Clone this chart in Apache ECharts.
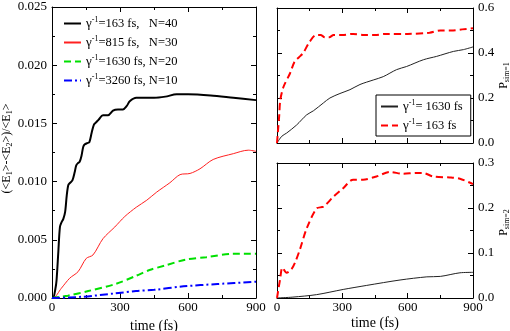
<!DOCTYPE html>
<html>
<head>
<meta charset="utf-8">
<script src="https://cdn.jsdelivr.net/npm/echarts@6/dist/echarts.min.js"></script>
<style>
  html, body { margin: 0; padding: 0; background: #fff; }
  #main { width: 510px; height: 331px; }
</style>
</head>
<body>
<div id="main"></div>
<script>
// left panel: relative energy difference
var tBlack = [0, 5, 15, 20, 28, 35, 42, 50, 58, 65, 72, 80, 90, 100, 107, 115, 122, 130, 138, 145, 155, 165, 175, 185, 195, 205, 225, 247, 269, 291, 313, 330, 343, 372, 400, 450, 500, 550, 600, 700, 800, 900];
var vBlack = [0, 0, 0.0008, 0.0015, 0.004, 0.0061, 0.0065, 0.0068, 0.0074, 0.0088, 0.0097, 0.0099, 0.0101, 0.0108, 0.0114, 0.0116, 0.0117, 0.0122, 0.013, 0.0132, 0.0133, 0.0134, 0.0142, 0.0149, 0.0151, 0.0153, 0.0157, 0.0157, 0.0161, 0.0162, 0.0162, 0.0165, 0.0169, 0.0172, 0.0172, 0.0172, 0.0173, 0.0175, 0.0175, 0.0174, 0.0172, 0.0170];
var tRed = [0, 5, 41, 78, 115, 151, 181, 225, 277, 321, 372, 418, 462, 520, 565, 609, 653, 711, 800, 866, 900];
var vRed = [0, 0, 0.00083, 0.0017, 0.00226, 0.0034, 0.0037, 0.0051, 0.0061, 0.007, 0.0078, 0.0084, 0.0091, 0.0099, 0.0106, 0.0107, 0.0111, 0.0119, 0.0124, 0.0127, 0.0126];
var tGreen = [0, 70, 160, 280, 370, 430, 500, 590, 680, 800, 850, 900];
var vGreen = [0, 0.0002, 0.0006, 0.0012, 0.0019, 0.0024, 0.0028, 0.0033, 0.0035, 0.0038, 0.0038, 0.0038];
var tBlue = [0, 130, 280, 370, 450, 580, 730, 900];
var vBlue = [0, 0.0001, 0.0004, 0.0006, 0.0007, 0.001, 0.0012, 0.0014];

// top right: P sim=1
var tP1Slow = [0, 22, 44, 90, 136, 167, 213, 243, 289, 335, 381, 442, 488, 549, 595, 672, 733, 810, 856, 900];
var vP1Slow = [0, 0.03, 0.044, 0.08, 0.125, 0.143, 0.178, 0.2, 0.22, 0.237, 0.26, 0.28, 0.295, 0.326, 0.34, 0.37, 0.385, 0.407, 0.415, 0.427];
var tP1Fast = [0, 10, 15, 30, 60, 80, 100, 120, 150, 180, 200, 220, 240, 260, 300, 350, 400, 450, 500, 600, 700, 750, 800, 850, 900];
var vP1Fast = [0, 0.12, 0.19, 0.25, 0.31, 0.36, 0.38, 0.40, 0.45, 0.48, 0.48, 0.47, 0.47, 0.48, 0.48, 0.485, 0.48, 0.48, 0.485, 0.485, 0.49, 0.50, 0.50, 0.505, 0.51];

// bottom right: P sim=2
var tP2Slow = [0, 73, 182, 304, 412, 565, 688, 750, 840, 900];
var vP2Slow = [0, 0.002, 0.0075, 0.019, 0.028, 0.04, 0.047, 0.048, 0.056, 0.057];
var tP2Fast = [0, 14, 25, 44, 66, 83, 106, 136, 182, 213, 259, 304, 350, 395, 457, 518, 579, 640, 670, 717, 794, 840, 900];
var vP2Fast = [0, 0.041, 0.0675, 0.056, 0.064, 0.079, 0.109, 0.154, 0.199, 0.203, 0.225, 0.244, 0.263, 0.263, 0.27, 0.28, 0.276, 0.278, 0.278, 0.27, 0.268, 0.265, 0.253];

var legendLeft = {
  L163: '{g|γ}{s|-1}{t|=163 fs,   N=40}',
  L815: '{g|γ}{s|-1}{t|=815 fs,   N=30}',
  L1630: '{g|γ}{s|-1}{t|=1630 fs, N=20}',
  L3260: '{g|γ}{s|-1}{t|=3260 fs, N=10}'
};
var legendRight = {
  R1630: '{g|γ}{s|-1}{t|= 1630 fs}',
  R163: '{g|γ}{s|-1}{t|= 163 fs}'
};

function zip(t, v) {
  return t.map(function (x, i) { return [x, v[i]]; });
}

var font = 'Liberation Serif';
var richLegend = {
  g: { fontFamily: font, fontSize: 13, lineHeight: 15, color: '#000' },
  s: { fontFamily: font, fontSize: 8, lineHeight: 9, verticalAlign: 'top', color: '#000' },
  t: { fontFamily: font, fontSize: 12.5, lineHeight: 15, color: '#000' }
};
var richName = {
  t: { fontFamily: font, fontSize: 12, lineHeight: 14, color: '#000' },
  b: { fontFamily: font, fontSize: 8, lineHeight: 9, verticalAlign: 'bottom', color: '#000' }
};

function xAx(grid, pos, labels) {
  var a = {
    type: 'value', gridIndex: grid, position: pos, min: 0, max: 900, interval: 300,
    axisLine: { show: true, onZero: false, lineStyle: { color: '#000', width: 1 } },
    axisTick: { show: true, inside: true, length: 5, lineStyle: { color: '#000' } },
    minorTick: { show: true, splitNumber: 2, length: 3, lineStyle: { color: '#000' } },
    splitLine: { show: false },
    axisLabel: { show: labels, margin: 3, color: '#000', fontFamily: font, fontSize: 13, showMinLabel: true, showMaxLabel: true }
  };
  if (labels) {
    a.name = 'time (fs)';
    a.nameLocation = 'middle';
    a.nameGap = 18;
    a.nameTextStyle = { color: '#000', fontFamily: font, fontSize: 14 };
  }
  return a;
}

function yAx(grid, pos, max, step, digits, labels, name, gap, pad) {
  var a = {
    type: 'value', gridIndex: grid, position: pos, min: 0, max: max, interval: step,
    axisLine: { show: true, onZero: false, lineStyle: { color: '#000', width: 1 } },
    axisTick: { show: true, inside: true, length: 5, lineStyle: { color: '#000' } },
    minorTick: { show: true, splitNumber: 2, length: 3, lineStyle: { color: '#000' } },
    splitLine: { show: false },
    axisLabel: {
      show: labels, margin: 5, color: '#000', fontFamily: font, fontSize: 13,
      showMinLabel: true, showMaxLabel: true,
      formatter: function (v) { return v.toFixed(digits); }
    }
  };
  if (name) {
    a.name = name;
    a.nameLocation = 'middle';
    a.nameRotate = 90;
    a.nameGap = gap;
    a.nameTextStyle = { color: '#000', fontFamily: font, fontSize: 12, rich: richName, padding: pad };
  }
  return a;
}

var chart = echarts.init(document.getElementById('main'));
chart.setOption({
  animation: false,
  backgroundColor: '#fff',
  grid: [
    { left: 52, top: 7, width: 204, height: 291, outerBoundsMode: 'none' },
    { left: 277, top: 8, width: 196, height: 135, outerBoundsMode: 'none' },
    { left: 277, top: 163, width: 196, height: 135, outerBoundsMode: 'none' }
  ],
  legend: [
    {
      data: ['L163', 'L815', 'L1630', 'L3260'],
      orient: 'vertical', left: 63, top: 16, padding: 0,
      itemWidth: 17, itemHeight: 12, itemGap: 5,
      itemStyle: { color: 'transparent', borderColor: 'transparent', borderWidth: 0 },
      formatter: function (n) { return legendLeft[n]; },
      textStyle: { rich: richLegend }
    },
    {
      data: ['R1630', 'R163'],
      orient: 'vertical', left: 376, top: 95, padding: [4, 8, 4, 4],
      itemWidth: 17, itemHeight: 12, itemGap: 5,
      borderColor: '#000', borderWidth: 1, backgroundColor: '#fff',
      itemStyle: { color: 'transparent', borderColor: 'transparent', borderWidth: 0 },
      formatter: function (n) { return legendRight[n]; },
      textStyle: { rich: richLegend }
    }
  ],
  xAxis: [
    xAx(0, 'bottom', true), xAx(0, 'top', false),
    xAx(1, 'bottom', false), xAx(1, 'top', false),
    xAx(2, 'bottom', true), xAx(2, 'top', false)
  ],
  yAxis: [
    yAx(0, 'left', 0.025, 0.005, 3, true, '{t|(<E}{b|1}{t|>-<E}{b|2}{t|>)/<E}{b|1}{t|>}', 38, [0, 0, 0, 8]),
    yAx(0, 'right', 0.025, 0.005, 3, false),
    yAx(1, 'right', 0.6, 0.2, 1, true, '{t|P}{b|sim=1}', 21, 0),
    yAx(1, 'left', 0.6, 0.2, 1, false),
    yAx(2, 'right', 0.3, 0.1, 1, true, '{t|P}{b|sim=2}', 21, [0, 0, 0, 16]),
    yAx(2, 'left', 0.3, 0.1, 1, false)
  ],
  series: [
    { name: 'L163', type: 'line', xAxisIndex: 0, yAxisIndex: 0, symbol: 'none', smooth: 0.3,
      data: zip(tBlack, vBlack), lineStyle: { color: '#000', width: 2 }, itemStyle: { color: '#000' } },
    { name: 'L815', type: 'line', xAxisIndex: 0, yAxisIndex: 0, symbol: 'none', smooth: 0.3,
      data: zip(tRed, vRed), lineStyle: { color: '#ff2020', width: 1 }, itemStyle: { color: '#ff2020' } },
    { name: 'L1630', type: 'line', xAxisIndex: 0, yAxisIndex: 0, symbol: 'none', smooth: 0.3,
      data: zip(tGreen, vGreen), lineStyle: { color: '#00e000', width: 2, type: [7, 4] }, itemStyle: { color: '#00e000' } },
    { name: 'L3260', type: 'line', xAxisIndex: 0, yAxisIndex: 0, symbol: 'none', smooth: 0.3,
      data: zip(tBlue, vBlue), lineStyle: { color: '#0000ff', width: 2, type: [8, 3, 2, 3] }, itemStyle: { color: '#0000ff' } },
    { name: 'R1630', type: 'line', xAxisIndex: 2, yAxisIndex: 2, symbol: 'none', smooth: 0.3,
      data: zip(tP1Slow, vP1Slow), lineStyle: { color: '#222', width: 1 }, itemStyle: { color: '#222' } },
    { name: 'R163', type: 'line', xAxisIndex: 2, yAxisIndex: 2, symbol: 'none', smooth: 0.3,
      data: zip(tP1Fast, vP1Fast), lineStyle: { color: '#ff0000', width: 2, type: [7, 4] }, itemStyle: { color: '#ff0000' } },
    { name: 'B1630', type: 'line', xAxisIndex: 4, yAxisIndex: 4, symbol: 'none', smooth: 0.3,
      data: zip(tP2Slow, vP2Slow), lineStyle: { color: '#222', width: 1 } },
    { name: 'B163', type: 'line', xAxisIndex: 4, yAxisIndex: 4, symbol: 'none', smooth: 0.3,
      data: zip(tP2Fast, vP2Fast), lineStyle: { color: '#ff0000', width: 2, type: [7, 4] } }
  ]
});
</script>
</body>
</html>
